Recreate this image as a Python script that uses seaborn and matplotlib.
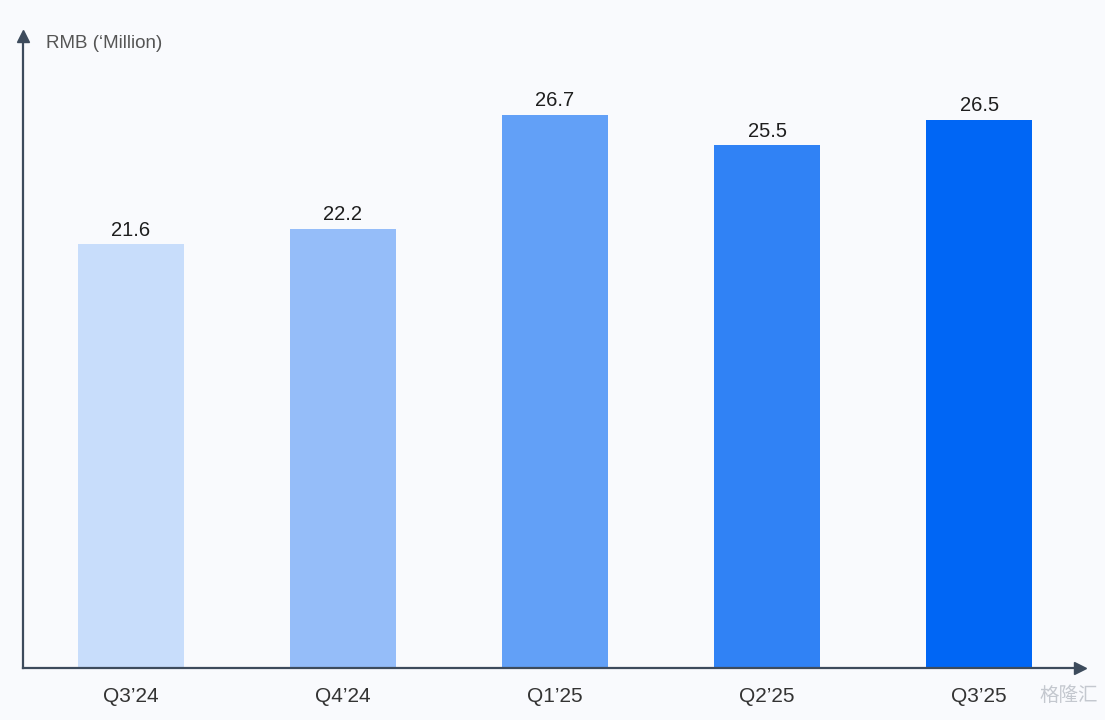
import pandas as pd
import matplotlib
matplotlib.use("Agg")
import matplotlib.pyplot as plt
import seaborn as sns

# ---- data ----
quarters = ["Q3’24", "Q4’24", "Q1’25", "Q2’25", "Q3’25"]
revenue = [21.6, 22.2, 26.7, 25.5, 26.5]
bar_colors = ["#c8ddfb", "#95bdf9", "#62a0f7", "#3082f5", "#0066f5"]
unit_label = "RMB (‘Million)"
watermark = "格隆汇"

df = pd.DataFrame({"quarter": quarters, "value": revenue})

sns.set_theme(style="white")
plt.rcParams["font.family"] = ["Liberation Sans", "Noto Sans CJK SC", "DejaVu Sans"]

BG = "#f9fafd"
AXIS = "#3d4b5c"

fig = plt.figure(figsize=(11.05, 7.2), dpi=100, facecolor=BG)
ax = fig.add_axes([0.0208, 0.0722, 0.9566, 0.8778], facecolor=BG)

sns.barplot(data=df, x="quarter", y="value", hue="quarter", palette=bar_colors,
            width=0.5, legend=False, saturation=1, linewidth=0, ax=ax)

ax.set_xlim(-0.509, 4.476)
ax.set_ylim(4.85, 29.8)

for c in ax.containers:
    ax.bar_label(c, fmt="%.1f", padding=3, fontsize=14.5, color="#1e1e1e")

# axis lines with arrowheads
for s in ["top", "right"]:
    ax.spines[s].set_visible(False)
for s in ["left", "bottom"]:
    ax.spines[s].set_color(AXIS)
    ax.spines[s].set_linewidth(1.6)
ax.plot(1, 0, ">", color=AXIS, markersize=9, transform=ax.transAxes, clip_on=False)
ax.plot(0, 1, "^", color=AXIS, markersize=9, transform=ax.transAxes, clip_on=False)

ax.set_yticks([])
ax.tick_params(axis="x", length=0, pad=14, labelsize=15, labelcolor="#333333")
ax.set_xlabel("")
ax.set_ylabel("")

fig.text(46 / 1105, 1 - 44 / 720, unit_label, fontsize=13.5, color="#555555",
         ha="left", va="center")

# watermark bottom right
fig.text(1098 / 1105, 1 - 695 / 720, watermark, fontsize=14, color="#c4c8cf",
         ha="right", va="center", family=["Noto Sans CJK SC", "DejaVu Sans"])

fig.savefig("out.png", dpi=100, facecolor=BG)
plt.close(fig)
